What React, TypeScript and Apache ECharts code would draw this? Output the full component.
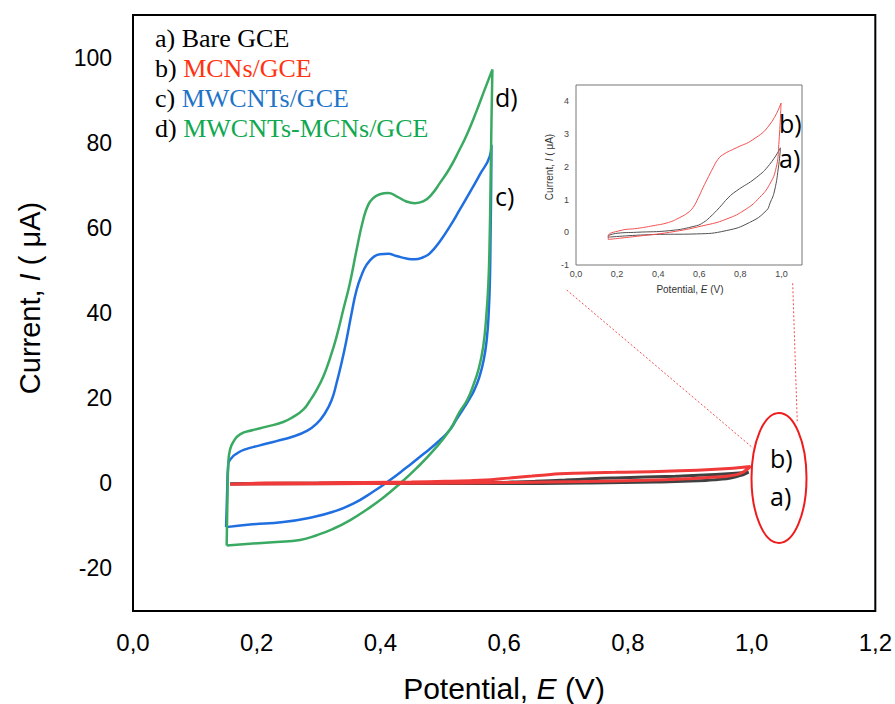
import React, { useEffect, useRef } from "react";
import * as echarts from "echarts";

// Potential E (V), current I (µA)
const seriesTags = ["a)", "b)", "c)", "d)"];
const seriesNames = ["Bare GCE", "MCNs/GCE", "MWCNTs/GCE", "MWCNTs-MCNs/GCE"];
const legendColors = ["#000000", "#ff3311", "#1f74c8", "#10a850"];
const lineColors = ["#404040", "#f03a3a", "#1f6fe0", "#3aaa62"];
const insetColors = ["#505050", "#f25050"];

const bareGCE: [number, number][] = [
  [0.157, -0.1], [0.2, -0.03], [0.295, 0.0], [0.456, 0.05], [0.586, 0.2], [0.62, 0.3],
  [0.65, 0.45], [0.699, 0.76], [0.74, 1.05], [0.78, 1.26], [0.877, 1.67], [0.942, 2.07],
  [0.995, 2.58], [0.987, 2.07], [0.966, 1.26], [0.945, 0.9], [0.926, 0.66], [0.845, 0.3],
  [0.731, 0.05], [0.586, -0.05], [0.375, -0.07], [0.157, -0.15], [0.157, -0.1],
];

const mcnsGCE: [number, number][] = [
  [0.157, -0.22], [0.157, -0.12], [0.214, 0.05], [0.3, 0.12], [0.375, 0.2], [0.45, 0.3],
  [0.505, 0.45], [0.545, 0.6], [0.57, 0.76], [0.595, 1.05], [0.618, 1.36], [0.645, 1.7],
  [0.667, 1.97], [0.69, 2.22], [0.715, 2.37], [0.78, 2.58], [0.861, 2.83], [0.942, 3.28],
  [0.998, 3.95], [0.987, 2.68], [0.974, 1.97], [0.942, 1.46], [0.893, 1.06], [0.828, 0.71],
  [0.731, 0.4], [0.618, 0.2], [0.456, 0.0], [0.3, -0.12], [0.157, -0.22],
];

const mwcntsGCE: [number, number][] = [
  [0.1505, -10.3], [0.152, -3], [0.154, 4.5], [0.159, 5.9], [0.168, 7.0], [0.18, 7.9],
  [0.205, 8.9], [0.232, 9.9], [0.259, 11.0], [0.281, 12.3], [0.297, 14.0], [0.31, 16.4],
  [0.321, 19.5], [0.329, 23.5], [0.337, 28.2], [0.345, 33.6], [0.3533, 39.9], [0.3614, 45.4],
  [0.3695, 48.9], [0.3775, 51.3], [0.3883, 53.1], [0.399, 53.8], [0.4125, 53.9], [0.426, 53.4],
  [0.442, 52.8], [0.4556, 52.6], [0.469, 53.1], [0.4798, 54.0], [0.496, 56.8], [0.512, 60.3],
  [0.528, 64.2], [0.544, 68.2], [0.5606, 72.5], [0.5767, 76.8], [0.5795, 79.5],
  [0.579, 70], [0.578, 58], [0.577, 48], [0.575, 40], [0.572, 34], [0.567, 29], [0.56, 25],
  [0.552, 22], [0.5435, 19.7], [0.534, 17.5], [0.523, 15], [0.512, 12.5], [0.496, 10.1],
  [0.469, 6.8], [0.442, 3.7], [0.415, 0.7], [0.388, -2.0], [0.356, -4.8], [0.3236, -6.7],
  [0.286, -8.1], [0.243, -9.1], [0.189, -9.7], [0.1505, -10.3],
];

const mwcntsMcnsGCE: [number, number][] = [
  [0.1514, -14.6], [0.1525, -5], [0.154, 4.6], [0.1567, 7.8], [0.162, 9.7], [0.173, 11.5],
  [0.194, 12.5], [0.216, 13.3], [0.2428, 14.4], [0.259, 15.6], [0.2752, 17.3], [0.286, 19.4],
  [0.2967, 21.9], [0.3075, 25.0], [0.3183, 29.3], [0.329, 34.4], [0.3398, 40.7], [0.3506, 47.0],
  [0.3614, 54.8], [0.3721, 61.9], [0.3802, 65.4], [0.3883, 67.0], [0.399, 67.9], [0.4125, 68.2],
  [0.426, 67.4], [0.442, 66.2], [0.4556, 65.8], [0.469, 66.2], [0.4825, 67.8], [0.496, 70.5],
  [0.512, 74.0], [0.528, 78.4], [0.54, 82], [0.555, 87.3], [0.568, 92.3], [0.581, 97.2],
  [0.5795, 85], [0.578, 70], [0.5765, 57], [0.5745, 47], [0.571, 39], [0.566, 32],
  [0.559, 27], [0.55, 23], [0.54, 19.5], [0.528, 16.8], [0.512, 12.5], [0.485, 7.6],
  [0.458, 3.5], [0.4313, -0.1], [0.4044, -3.4], [0.3775, -6.2], [0.3506, -8.7], [0.3236, -10.7],
  [0.297, -12.2], [0.27, -13.3], [0.232, -13.8], [0.189, -14.2], [0.1514, -14.6],
];

const SANS = "'Liberation Sans', Arial, sans-serif";
const SERIF = "'Liberation Serif', 'Times New Roman', serif";
const LABEL = "'Open Sans', 'Noto Sans', sans-serif";

const comma = (v: number) => v.toFixed(1).replace(".", ",");

function buildOption(): any {
  const mainLine = (name: string, data: [number, number][], color: string, width: number, z: number) => ({
    name,
    type: "line",
    xAxisIndex: 0,
    yAxisIndex: 0,
    data,
    showSymbol: false,
    smooth: 0.5,
    z,
    lineStyle: { color, width },
  });
  const insetLine = (name: string, data: [number, number][], color: string) => ({
    name: name + " (inset)",
    type: "line",
    xAxisIndex: 1,
    yAxisIndex: 1,
    data,
    showSymbol: false,
    smooth: 0.5,
    z: 5,
    lineStyle: { color, width: 1 },
  });

  const legendTexts = seriesTags.map((tag, i) => ({
    type: "text",
    x: 155,
    y: 38 + i * 30,
    style: {
      text: `{t|${tag} }{n${i}|${seriesNames[i]}}`,
      verticalAlign: "middle",
      rich: {
        t: { fontFamily: SERIF, fontSize: 26, fill: "#000" },
        [`n${i}`]: { fontFamily: SERIF, fontSize: 26, fill: legendColors[i] },
      },
    },
  }));

  const tagText = (text: string, x: number, y: number) => ({
    type: "text",
    x,
    y,
    z: 20,
    style: { text, fontFamily: LABEL, fontSize: 25, fill: "#000", verticalAlign: "middle" },
  });

  const richTitle = (pre: string, it: string, post: string, size: number, fill: string) => ({
    text: `{n|${pre}}{i|${it}}{n|${post}}`,
    align: "center",
    verticalAlign: "middle",
    rich: {
      n: { fontFamily: SANS, fontSize: size, fill },
      i: { fontFamily: SANS, fontSize: size, fontStyle: "italic", fill },
    },
  });

  return {
    animation: false,
    backgroundColor: "#fff",
    grid: [
      { left: 133, top: 15, width: 743, height: 596, show: true, borderColor: "#000", borderWidth: 2, backgroundColor: "transparent" },
      { left: 576, top: 85, width: 226, height: 180, show: true, borderColor: "#777", borderWidth: 1, backgroundColor: "#fff", z: 4 },
    ],
    xAxis: [
      {
        type: "value", gridIndex: 0, min: 0, max: 1.2, interval: 0.2,
        axisLine: { show: false }, axisTick: { show: false }, splitLine: { show: false },
        axisLabel: { formatter: comma, fontFamily: SANS, fontSize: 24, color: "#000", margin: 19, showMaxLabel: true },
      },
      {
        type: "value", gridIndex: 1, min: 0, max: 1.1, interval: 0.2,
        axisLine: { show: false }, axisTick: { show: false }, splitLine: { show: false },
        axisLabel: { formatter: comma, fontFamily: SANS, fontSize: 9, color: "#444", margin: 4, showMaxLabel: false },
      },
    ],
    yAxis: [
      {
        type: "value", gridIndex: 0, min: -30, max: 110, interval: 10,
        axisLine: { show: false }, axisTick: { show: false }, splitLine: { show: false },
        axisLabel: {
          formatter: (v: number) => (Math.round(v) % 20 === 0 && v < 110 ? String(Math.round(v)) : ""),
          fontFamily: SANS, fontSize: 23, color: "#000", margin: 21,
        },
      },
      {
        type: "value", gridIndex: 1, min: -1, max: 4.5, interval: 1,
        axisLine: { show: false }, axisTick: { show: false }, splitLine: { show: false },
        axisLabel: { fontFamily: SANS, fontSize: 9, color: "#444", margin: 7, showMaxLabel: false },
      },
    ],
    series: [
      mainLine(seriesNames[2], mwcntsGCE, lineColors[2], 2.5, 2),
      mainLine(seriesNames[3], mwcntsMcnsGCE, lineColors[3], 2.5, 3),
      mainLine(seriesNames[0], bareGCE, lineColors[0], 3, 3),
      mainLine(seriesNames[1], mcnsGCE, lineColors[1], 3, 4),
      insetLine(seriesNames[0], bareGCE, insetColors[0]),
      insetLine(seriesNames[1], mcnsGCE, insetColors[1]),
    ],
    graphic: [
      ...legendTexts,
      { type: "text", x: 30, y: 298, rotation: Math.PI / 2, style: richTitle("Current, ", "I", " ( μA)", 29, "#000") },
      { type: "text", x: 504, y: 688, style: richTitle("Potential, ", "E", " (V)", 30, "#000") },
      { type: "text", x: 549, y: 167, rotation: Math.PI / 2, z: 20, style: richTitle("Current, ", "I", " ( μA)", 10, "#333") },
      { type: "text", x: 690, y: 289, z: 20, style: richTitle("Potential, ", "E", " (V)", 10, "#333") },
      tagText("d)", 495, 97),
      tagText("c)", 495, 196),
      tagText("b)", 779, 123),
      tagText("a)", 779, 158),
      tagText("b)", 770, 458),
      tagText("a)", 770, 496),
      {
        type: "ellipse", z: 20,
        shape: { cx: 779, cy: 478, rx: 27.5, ry: 65 },
        style: { fill: "none", stroke: "#ee1c1c", lineWidth: 2 },
      },
      {
        type: "line", z: 20,
        shape: { x1: 566.7, y1: 290, x2: 753.3, y2: 448.3 },
        style: { stroke: "#f05050", lineWidth: 1, lineDash: [2, 2] },
      },
      {
        type: "line", z: 20,
        shape: { x1: 792.7, y1: 283.3, x2: 797.3, y2: 423.3 },
        style: { stroke: "#f05050", lineWidth: 1, lineDash: [2, 2] },
      },
    ],
  };
}

export default function App() {
  const ref = useRef<HTMLDivElement>(null);
  useEffect(() => {
    if (!ref.current) return;
    const chart = echarts.init(ref.current, null, { renderer: "svg" });
    chart.setOption(buildOption());
    return () => chart.dispose();
  }, []);
  return (
    <div
      ref={ref}
      style={{ position: "fixed", left: 0, top: 0, width: 895, height: 704, background: "#fff" }}
    />
  );
}
